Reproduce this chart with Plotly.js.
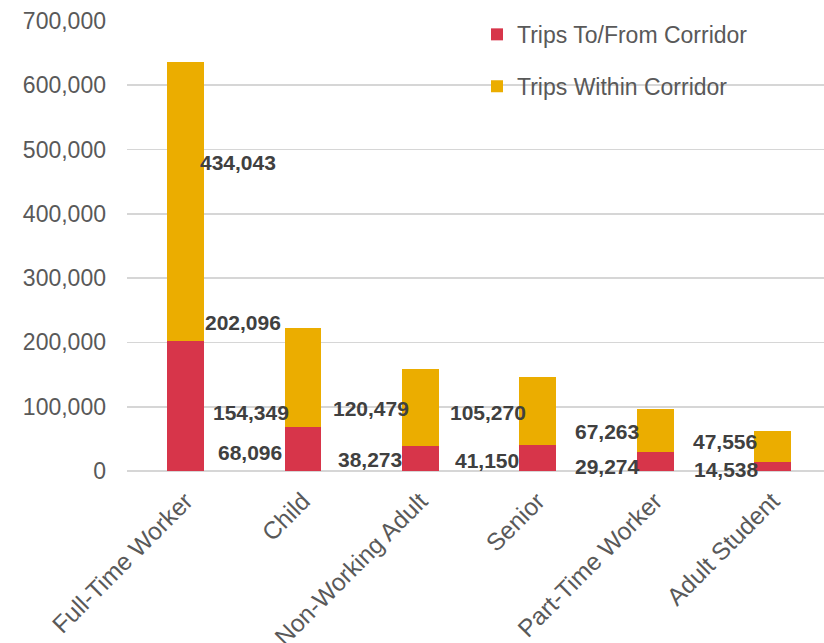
<!DOCTYPE html>
<html>
<head>
<meta charset="utf-8">
<script src="https://cdn.plot.ly/plotly-3.0.1.min.js"></script>
<style>html,body{margin:0;padding:0;background:#fff;}#chart{width:824px;height:643px;}</style>
</head>
<body>
<div id="chart"></div>
<script>
const categories = ["Full-Time Worker", "Child", "Non-Working Adult", "Senior", "Part-Time Worker", "Adult Student"];
const tripsToFrom = [202096, 68096, 38273, 41150, 29274, 14538];
const tripsWithin = [434043, 154349, 120479, 105270, 67263, 47556];
const seriesNames = ["Trips To/From Corridor", "Trips Within Corridor"];

// label pixel offsets (style only), relative to the middle of each segment
const redShiftX = [57.5, -53.5, -50, -51, -47.5, -46];
const redShiftY = [84, -3, -1, -3, -5, -3];
const yelShiftX = [52.5, -52.5, -49, -49.5, -48, -47];
const yelShiftY = [39.5, -35, -1, -2, -1, 5];

const RED = "#D7354A", YEL = "#EBAD00";
const fmt = v => v.toLocaleString("en-US");

const traces = [
  {type: "bar", name: seriesNames[0], x: categories, y: tripsToFrom, marker: {color: RED}, legendgroup: "a", hoverinfo: "none"},
  {type: "bar", name: seriesNames[1], x: categories, y: tripsWithin, marker: {color: YEL}, legendgroup: "b", hoverinfo: "none"}
];

const annFont = {family: "Liberation Sans, Arial, sans-serif", size: 21, color: "#404040", weight: "bold"};
const annotations = [];
categories.forEach((c, i) => {
  annotations.push({x: c, y: tripsToFrom[i] / 2, text: "<b>" + fmt(tripsToFrom[i]) + "</b>", showarrow: false,
    xshift: redShiftX[i], yshift: redShiftY[i], font: annFont});
  annotations.push({x: c, y: tripsToFrom[i] + tripsWithin[i] / 2, text: "<b>" + fmt(tripsWithin[i]) + "</b>", showarrow: false,
    xshift: yelShiftX[i], yshift: yelShiftY[i], font: annFont});
});

const layout = {
  width: 824, height: 643,
  margin: {l: 127, r: 0, t: 21, b: 172},
  paper_bgcolor: "#fff", plot_bgcolor: "#fff",
  barmode: "stack", bargap: 0.685,
  font: {family: "Liberation Sans, Arial, sans-serif", size: 23, color: "#595959"},
  xaxis: {range: [-0.5, 5.44], tickangle: -45, showgrid: false, zeroline: false, showline: false,
    ticks: "", ticklabelstandoff: 10, tickfont: {size: 24.5, color: "#595959"}},
  yaxis: {range: [0, 700000], dtick: 100000, tickformat: ",d", showgrid: true, gridcolor: "#D6D6D6", gridwidth: 1.8,
    zeroline: true, zerolinecolor: "#D6D6D6", zerolinewidth: 1.8, showline: false, ticks: "",
    ticklabelstandoff: 20, tickfont: {size: 23, color: "#595959"}},
  legend: {x: (477 - 127) / 697, y: 1.018, xanchor: "left", yanchor: "top", traceorder: "grouped", tracegroupgap: 19,
    bgcolor: "rgba(0,0,0,0)", font: {size: 23, color: "#595959"}, itemwidth: 30},
  annotations: annotations,
  showlegend: true
};

Plotly.newPlot("chart", traces, layout, {displayModeBar: false, staticPlot: true});
</script>
</body>
</html>
